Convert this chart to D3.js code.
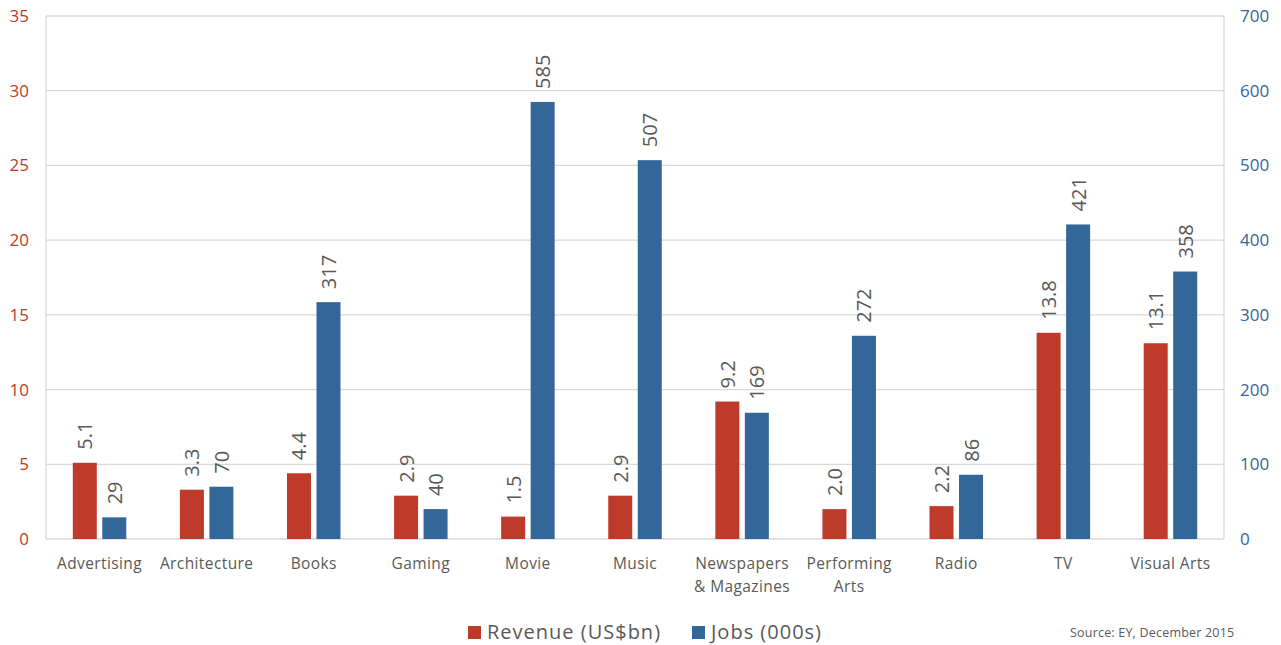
<!DOCTYPE html>
<html>
<head>
<meta charset="utf-8">
<script src="https://cdn.jsdelivr.net/npm/d3@7"></script>
<style>
  html, body { margin: 0; padding: 0; background: #fff; }
  svg { display: block; font-family: "Open Sans", Lato, "Liberation Sans", sans-serif; }
</style>
</head>
<body>
<svg id="chart" width="1281" height="645"></svg>
<script>
// Creative industries: revenue and jobs by sector
const categories = ["Advertising", "Architecture", "Books", "Gaming", "Movie", "Music",
  "Newspapers\n& Magazines", "Performing\nArts", "Radio", "TV", "Visual Arts"];
const revenue = [5.1, 3.3, 4.4, 2.9, 1.5, 2.9, 9.2, 2.0, 2.2, 13.8, 13.1];
const jobs = [29, 70, 317, 40, 585, 507, 169, 272, 86, 421, 358];
const leftTicks = [0, 5, 10, 15, 20, 25, 30, 35];
const rightTicks = [0, 100, 200, 300, 400, 500, 600, 700];
const seriesNames = ["Revenue (US$bn)", "Jobs (000s)"];
const sourceText = "Source: EY, December 2015";

const RED = "#BE3A2A", BLUE = "#336699", GRID = "#D9D9D9", TEXT = "#595959";
const m = { left: 46, right: 1224, top: 16, bottom: 539 };

const svg = d3.select("#chart");

const x = d3.scaleBand().domain(categories).range([m.left, m.right]);
const yL = d3.scaleLinear().domain([0, 35]).range([m.bottom, m.top]);
const yR = d3.scaleLinear().domain([0, 700]).range([m.bottom, m.top]);

// gridlines
svg.append("g").selectAll("line").data(leftTicks).join("line")
  .attr("x1", m.left).attr("x2", m.right)
  .attr("y1", d => yL(d)).attr("y2", d => yL(d))
  .attr("stroke", GRID).attr("stroke-width", 1.3);

// side axis lines
svg.append("line").attr("x1", m.left).attr("x2", m.left).attr("y1", m.top).attr("y2", m.bottom)
  .attr("stroke", GRID).attr("stroke-width", 1.3);
svg.append("line").attr("x1", m.right).attr("x2", m.right).attr("y1", m.top).attr("y2", m.bottom)
  .attr("stroke", GRID).attr("stroke-width", 1.3);

// left axis labels
const leftAxis = d3.axisLeft(yL).tickValues(leftTicks).tickSize(0).tickPadding(17);
const gL = svg.append("g").attr("transform", `translate(${m.left},0)`).call(leftAxis);
gL.select(".domain").remove();
gL.selectAll("text").attr("fill", RED).style("font-size", "17px")
  .attr("font-family", "'Open Sans', sans-serif");

// right axis labels
const rightAxis = d3.axisRight(yR).tickValues(rightTicks).tickSize(0).tickPadding(16);
const gR = svg.append("g").attr("transform", `translate(${m.right},0)`).call(rightAxis);
gR.select(".domain").remove();
gR.selectAll("text").attr("fill", BLUE).style("font-size", "17px")
  .attr("font-family", "'Open Sans', sans-serif");

// bars
const barW = 24, gap = 5.5;
const groupOffset = (x.bandwidth() - (2 * barW + gap)) / 2;
const rows = categories.map((c, i) => ({ c, rev: revenue[i], job: jobs[i] }));

const groups = svg.append("g").selectAll("g").data(rows).join("g")
  .attr("transform", d => `translate(${x(d.c) + groupOffset},0)`);

groups.append("rect")
  .attr("x", 0).attr("width", barW)
  .attr("y", d => yL(d.rev)).attr("height", d => yL(0) - yL(d.rev))
  .attr("fill", RED);
groups.append("rect")
  .attr("x", barW + gap).attr("width", barW)
  .attr("y", d => yR(d.job)).attr("height", d => yR(0) - yR(d.job))
  .attr("fill", BLUE);

// rotated value labels
groups.append("text")
  .attr("transform", d => `translate(${barW / 2 + 7.5},${yL(d.rev) - 13}) rotate(-90)`)
  .attr("fill", TEXT).style("font-size", "20px")
  .text(d => d.rev.toFixed(1));
groups.append("text")
  .attr("transform", d => `translate(${barW + gap + barW / 2 + 7.5},${yR(d.job) - 13}) rotate(-90)`)
  .attr("fill", TEXT).style("font-size", "20px")
  .text(d => d.job);

// category labels
const catG = svg.append("g").selectAll("text").data(categories).join("text")
  .attr("x", d => x(d) + x.bandwidth() / 2)
  .attr("y", 569)
  .attr("text-anchor", "middle")
  .attr("fill", TEXT).style("font-size", "15.5px").style("letter-spacing", "0.4px");
catG.selectAll("tspan").data(d => d.split("\n")).join("tspan")
  .attr("x", function () { return d3.select(this.parentNode).attr("x"); })
  .attr("dy", (d, i) => i === 0 ? 0 : 23)
  .text(d => d);

// legend
const legend = [
  { name: seriesNames[0], color: RED, x: 468 },
  { name: seriesNames[1], color: BLUE, x: 692 }
];
const lg = svg.append("g").selectAll("g").data(legend).join("g")
  .attr("transform", d => `translate(${d.x},0)`);
lg.append("rect").attr("x", 0).attr("y", 626).attr("width", 13).attr("height", 13).attr("fill", d => d.color);
lg.append("text").attr("x", 19).attr("y", 639).attr("fill", TEXT)
  .style("font-size", "20px").style("letter-spacing", "1px").text(d => d.name);

// source note
svg.append("text").attr("x", 1070).attr("y", 637).attr("fill", TEXT)
  .style("font-size", "12.5px").style("letter-spacing", "0.2px").text(sourceText);
</script>
</body>
</html>
